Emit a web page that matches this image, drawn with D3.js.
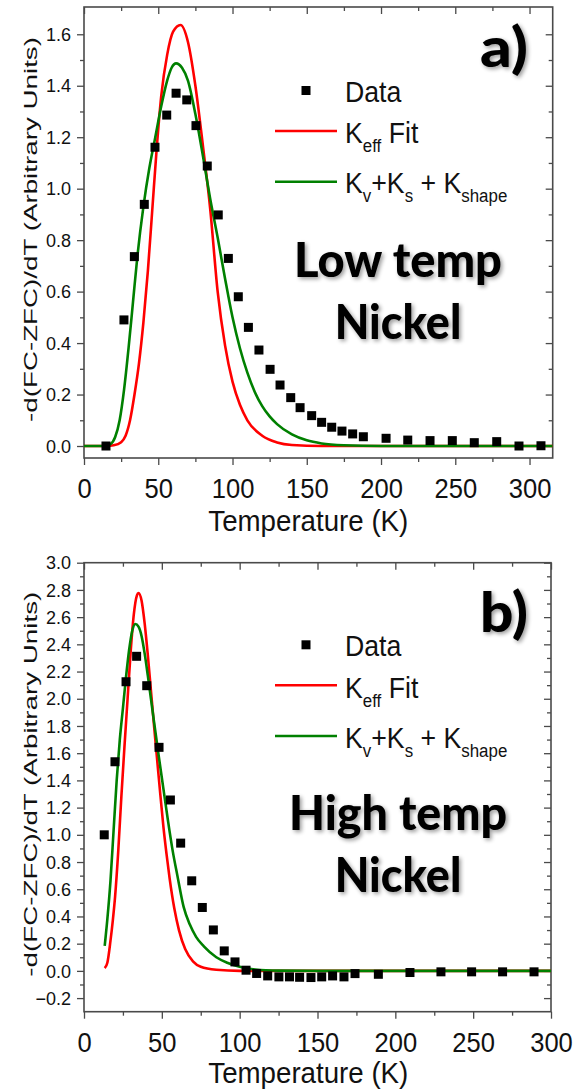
<!DOCTYPE html>
<html>
<head>
<meta charset="utf-8">
<script src="https://cdn.jsdelivr.net/npm/d3@7"></script>
<style>
  html, body { margin: 0; padding: 0; background: #fff; }
  svg { display: block; }
</style>
</head>
<body>
<script>
// ---------- Data ----------
// Panel a) Low temp Nickel
const dataTA = [14.8, 26.9, 33.9, 40.6, 47.8, 55.7, 62.0, 69.2, 75.4, 83.0, 90.4, 97.2, 103.9, 110.7, 117.8, 125.3, 132.0, 139.2, 145.5, 153.3, 160.0, 166.8, 173.7, 180.9, 188.1, 203.4, 218.0, 233.0, 248.0, 262.8, 277.9, 292.9, 307.7];
const dataA  = [0.0, 0.49, 0.736, 0.939, 1.161, 1.286, 1.371, 1.345, 1.245, 1.088, 0.898, 0.729, 0.58, 0.461, 0.373, 0.298, 0.237, 0.188, 0.149, 0.118, 0.092, 0.073, 0.058, 0.047, 0.036, 0.030, 0.023, 0.021, 0.021, 0.013, 0.017, 0.0, 0.001];

const redTA = [0, 10, 15, 20, 25, 28, 31, 34, 37, 40, 43, 46, 49, 52, 56, 60, 65, 70, 75, 80, 85, 90, 95, 100, 105, 110, 120, 130, 140, 160, 200, 315.6];
const redA  = [0, 0, 0, 0.003, 0.015, 0.04, 0.10, 0.20, 0.32, 0.48, 0.68, 0.92, 1.16, 1.36, 1.52, 1.61, 1.636, 1.57, 1.40, 1.17, 0.92, 0.60, 0.39, 0.25, 0.16, 0.10, 0.04, 0.014, 0.004, 0, 0, 0];

const greenTA = [0, 10, 15, 18, 21, 24, 27, 30, 33, 36, 40, 44, 48, 52, 56, 59, 62, 66, 70, 75, 80, 85, 90, 95, 100, 105, 110, 115, 120, 125, 130, 140, 150, 160, 175, 200, 315.6];
const greenA  = [0, 0, 0.002, 0.008, 0.035, 0.10, 0.22, 0.38, 0.56, 0.74, 0.93, 1.08, 1.20, 1.32, 1.42, 1.47, 1.487, 1.47, 1.42, 1.29, 1.13, 0.96, 0.81, 0.65, 0.50, 0.38, 0.285, 0.21, 0.155, 0.115, 0.085, 0.045, 0.022, 0.010, 0.003, 0, 0];

// Panel b) High temp Nickel
const dataTB = [13.0, 19.9, 27.0, 33.8, 40.3, 48.2, 55.5, 62.1, 69.2, 76.0, 83.1, 90.1, 97.0, 104.1, 110.9, 118.0, 125.2, 132.0, 138.5, 145.8, 152.7, 159.7, 167.0, 174.1, 189.1, 209.4, 229.3, 249.0, 268.9, 289.1];
const dataB  = [1.0, 1.537, 2.125, 2.312, 2.096, 1.643, 1.256, 0.939, 0.662, 0.466, 0.301, 0.147, 0.066, 0.005, -0.019, -0.037, -0.044, -0.044, -0.047, -0.049, -0.044, -0.037, -0.044, -0.02, -0.025, -0.012, -0.007, -0.007, -0.007, -0.007];

const redTB = [13.3, 15, 17, 18.5, 20, 22, 24, 26, 28, 30, 32, 34, 35, 37, 39, 41, 43, 45, 47, 49, 51, 53, 55, 58, 61, 65, 70, 75, 85, 100, 300];
const redB  = [0.02, 0.06, 0.22, 0.37, 0.55, 0.88, 1.28, 1.65, 2.00, 2.35, 2.62, 2.76, 2.777, 2.72, 2.55, 2.32, 2.06, 1.80, 1.55, 1.30, 1.06, 0.86, 0.68, 0.46, 0.30, 0.16, 0.07, 0.03, 0.008, 0, 0];

const greenTB = [13.3, 15, 17, 19, 21, 23, 25, 27, 29, 31, 33, 35, 37, 39, 41, 43, 45, 48, 51, 54, 57, 60, 64, 68, 72, 77, 85, 92, 100, 110, 125, 150, 300];
const greenB  = [0.184, 0.38, 0.66, 1.03, 1.40, 1.70, 1.93, 2.16, 2.36, 2.50, 2.549, 2.53, 2.46, 2.33, 2.17, 2.00, 1.83, 1.58, 1.34, 1.10, 0.88, 0.70, 0.47, 0.34, 0.25, 0.18, 0.10, 0.06, 0.03, 0.01, 0.002, 0, 0];

// Tick values / labels
const xMajorTicks = [0, 50, 100, 150, 200, 250, 300];
const xMinorTicks = [25, 75, 125, 175, 225, 275];
const yMajorTicksA = [0.0, 0.2, 0.4, 0.6, 0.8, 1.0, 1.2, 1.4, 1.6];
const yMinorTicksA = [0.1, 0.3, 0.5, 0.7, 0.9, 1.1, 1.3, 1.5];
const yMajorTicksB = [-0.2, 0.0, 0.2, 0.4, 0.6, 0.8, 1.0, 1.2, 1.4, 1.6, 1.8, 2.0, 2.2, 2.4, 2.6, 2.8, 3.0];
const yMinorTicksB = [-0.1, 0.1, 0.3, 0.5, 0.7, 0.9, 1.1, 1.3, 1.5, 1.7, 1.9, 2.1, 2.3, 2.5, 2.7, 2.9];

const xTitle = "Temperature (K)";
const yTitle = "-d(FC-ZFC)/dT (Arbitrary Units)";
const legendLabels = ["Data", "K_eff Fit", "K_v+K_s + K_shape"];
const colors = { data: "#000000", red: "#ff0000", green: "#008000", frame: "#4a4a4a" };

// ---------- Drawing ----------
const W = 584, H = 1090;
const svg = d3.select("body").append("svg").attr("width", W).attr("height", H);
const FONT = "'Liberation Sans', Arial, sans-serif";

const defs = svg.append("defs");
const f = defs.append("filter").attr("id", "sh").attr("x", "-20%").attr("y", "-30%").attr("width", "140%").attr("height", "160%");
f.append("feGaussianBlur").attr("in", "SourceAlpha").attr("stdDeviation", 2.2).attr("result", "b");
f.append("feOffset").attr("in", "b").attr("dx", 1.5).attr("dy", 1.5).attr("result", "o");
f.append("feComponentTransfer").attr("in", "o").attr("result", "t")
  .append("feFuncA").attr("type", "linear").attr("slope", 0.4);
const fm = f.append("feMerge");
fm.append("feMergeNode").attr("in", "t");
fm.append("feMergeNode").attr("in", "SourceGraphic");

function zip(a, b) { return a.map((d, i) => [d, b[i]]); }

function drawPanel(cfg) {
  const x = d3.scaleLinear().domain(cfg.xDomain).range([cfg.left, cfg.right]);
  const y = d3.scaleLinear().domain(cfg.yDomain).range([cfg.bottom, cfg.top]);
  const g = svg.append("g");
  const clipId = "clip" + cfg.id;
  defs.append("clipPath").attr("id", clipId).append("rect")
    .attr("x", cfg.left).attr("y", cfg.top)
    .attr("width", cfg.right - cfg.left).attr("height", cfg.bottom - cfg.top);

  function styleAxis(sel) {
    sel.select(".domain").remove();
    sel.selectAll("line").attr("stroke", colors.frame).attr("stroke-width", 1.3);
  }

  // Bottom axis (outward ticks, labels)
  const gxb = g.append("g").attr("transform", `translate(0,${cfg.bottom})`)
    .call(d3.axisBottom(x).tickValues(xMajorTicks).tickSize(7).tickFormat(d3.format("d")));
  styleAxis(gxb);
  gxb.selectAll("text")
    .attr("y", 40).attr("dy", null)
    .attr("font-family", FONT).attr("font-size", 27.5).attr("fill", "#111")
    .attr("transform", "scale(0.93,1)");
  g.append("g").attr("transform", `translate(0,${cfg.bottom})`)
    .call(d3.axisBottom(x).tickValues(xMinorTicks).tickSize(4).tickFormat(""))
    .call(styleAxis);

  // Top axis (inward ticks)
  g.append("g").attr("transform", `translate(0,${cfg.top})`)
    .call(d3.axisTop(x).tickValues(xMajorTicks).tickSize(-7).tickFormat(""))
    .call(styleAxis);
  g.append("g").attr("transform", `translate(0,${cfg.top})`)
    .call(d3.axisTop(x).tickValues(xMinorTicks).tickSize(-4).tickFormat(""))
    .call(styleAxis);

  // Left axis (outward ticks, labels)
  const gyl = g.append("g").attr("transform", `translate(${cfg.left},0)`)
    .call(d3.axisLeft(y).tickValues(cfg.yMajor).tickSize(7).tickPadding(6).tickFormat(d3.format(".1f")));
  styleAxis(gyl);
  gyl.selectAll("text").attr("font-family", FONT).attr("font-size", 18).attr("fill", "#111").attr("dy", "0.34em");
  g.append("g").attr("transform", `translate(${cfg.left},0)`)
    .call(d3.axisLeft(y).tickValues(cfg.yMinor).tickSize(4).tickFormat(""))
    .call(styleAxis);

  // Right axis (inward ticks)
  g.append("g").attr("transform", `translate(${cfg.right},0)`)
    .call(d3.axisRight(y).tickValues(cfg.yMajor).tickSize(-7).tickFormat(""))
    .call(styleAxis);
  g.append("g").attr("transform", `translate(${cfg.right},0)`)
    .call(d3.axisRight(y).tickValues(cfg.yMinor).tickSize(-4).tickFormat(""))
    .call(styleAxis);

  // Frame
  g.append("rect").attr("x", cfg.left).attr("y", cfg.top)
    .attr("width", cfg.right - cfg.left).attr("height", cfg.bottom - cfg.top)
    .attr("fill", "none").attr("stroke", colors.frame).attr("stroke-width", 1.6);

  // Curves
  const line = d3.line().x(d => x(d[0])).y(d => y(d[1])).curve(d3.curveMonotoneX);
  const plot = g.append("g").attr("clip-path", `url(#${clipId})`);
  plot.append("path").datum(zip(cfg.redT, cfg.red)).attr("d", line)
    .attr("fill", "none").attr("stroke", colors.red).attr("stroke-width", 2.6).attr("stroke-linejoin", "round");
  plot.append("path").datum(zip(cfg.greenT, cfg.green)).attr("d", line)
    .attr("fill", "none").attr("stroke", colors.green).attr("stroke-width", 2.6).attr("stroke-linejoin", "round");

  // Data squares
  const s = 9;
  plot.selectAll("rect.pt").data(zip(cfg.dataT, cfg.data)).join("rect").attr("class", "pt")
    .attr("x", d => x(d[0]) - s / 2).attr("y", d => y(d[1]) - s / 2)
    .attr("width", s).attr("height", s).attr("fill", colors.data);

  // Axis titles
  g.append("text").attr("x", 308.3).attr("y", cfg.xTitleY)
    .attr("text-anchor", "middle").attr("font-family", FONT).attr("font-size", 29.5).attr("fill", "#111")
    .attr("textLength", 200).attr("lengthAdjust", "spacingAndGlyphs").text(xTitle);
  const yc = (cfg.top + cfg.bottom) / 2 - 3;
  g.append("text").attr("transform", `translate(37,${yc}) rotate(-90)`)
    .attr("text-anchor", "middle").attr("font-family", FONT).attr("font-size", 17.5).attr("fill", "#111")
    .attr("textLength", 385).attr("lengthAdjust", "spacingAndGlyphs").text(yTitle);

  // Legend
  const lo = cfg.legendOffset;
  g.append("rect").attr("x", 306 - s / 2).attr("y", 90.5 + lo - s / 2).attr("width", s).attr("height", s).attr("fill", colors.data);
  g.append("line").attr("x1", 275).attr("x2", 337).attr("y1", 131 + lo).attr("y2", 131 + lo)
    .attr("stroke", colors.red).attr("stroke-width", 2.6);
  g.append("line").attr("x1", 275).attr("x2", 337).attr("y1", 181.7 + lo).attr("y2", 181.7 + lo)
    .attr("stroke", colors.green).attr("stroke-width", 2.6);

  function legText(yb, parts) {
    const t = g.append("text").attr("transform", `translate(345,${yb}) scale(0.89,1)`)
      .attr("font-family", FONT).attr("font-size", 30).attr("fill", "#111");
    let shift = 0;
    parts.forEach(p => {
      const ts = t.append("tspan").text(p.t);
      if (p.sub) { ts.attr("font-size", 19).attr("dy", 9 - shift); shift = 9; }
      else { ts.attr("dy", -shift); shift = 0; }
    });
  }
  const sub = str => str.split("_");
  legText(101.7 + lo, [{ t: legendLabels[0] }]);
  const l1 = sub(legendLabels[1]);
  legText(143.3 + lo, [{ t: l1[0] }, { t: l1[1].split(" ")[0], sub: true }, { t: " " + l1[1].split(" ")[1] }]);
  legText(193.3 + lo, [{ t: "K" }, { t: "v", sub: true }, { t: "+K" }, { t: "s", sub: true }, { t: " + K" }, { t: "shape", sub: true }]);

  // Panel label and annotation
  const bold = "Lato, 'Open Sans', sans-serif";
  g.append("text").attr("x", 480).attr("y", cfg.labelY).attr("font-family", bold).attr("font-weight", 900)
    .attr("font-size", 56).attr("fill", "#000").attr("filter", "url(#sh)")
    .attr("textLength", 48).attr("lengthAdjust", "spacingAndGlyphs").text(cfg.label);
  cfg.note.forEach(n => {
    g.append("text").attr("x", 398).attr("y", n.y).attr("text-anchor", "middle")
      .attr("font-family", bold).attr("font-weight", 900).attr("font-size", 47).attr("fill", "#000")
      .attr("filter", "url(#sh)")
      .attr("textLength", n.w).attr("lengthAdjust", "spacingAndGlyphs").text(n.t);
  });
}

drawPanel({
  id: "A", left: 84, right: 552.7, top: 7, bottom: 458,
  xDomain: [0, 315.6], yDomain: [-0.0466, 1.706],
  yMajor: yMajorTicksA, yMinor: yMinorTicksA,
  dataT: dataTA, data: dataA, redT: redTA, red: redA, greenT: greenTA, green: greenA,
  legendOffset: 0, label: "a)", labelY: 67, xTitleY: 531,
  note: [{ t: "Low temp", y: 276.7, w: 208 }, { t: "Nickel", y: 339.3, w: 126.7 }]
});

drawPanel({
  id: "B", left: 84, right: 551, top: 562.7, bottom: 1011.7,
  xDomain: [0, 300], yDomain: [-0.3, 3.0],
  yMajor: yMajorTicksB, yMinor: yMinorTicksB,
  dataT: dataTB, data: dataB, redT: redTB, red: redB, greenT: greenTB, green: greenB,
  legendOffset: 554.3, label: "b)", labelY: 632, xTitleY: 1083,
  note: [{ t: "High temp", y: 830, w: 218 }, { t: "Nickel", y: 891.7, w: 126.7 }]
});
</script>
</body>
</html>
